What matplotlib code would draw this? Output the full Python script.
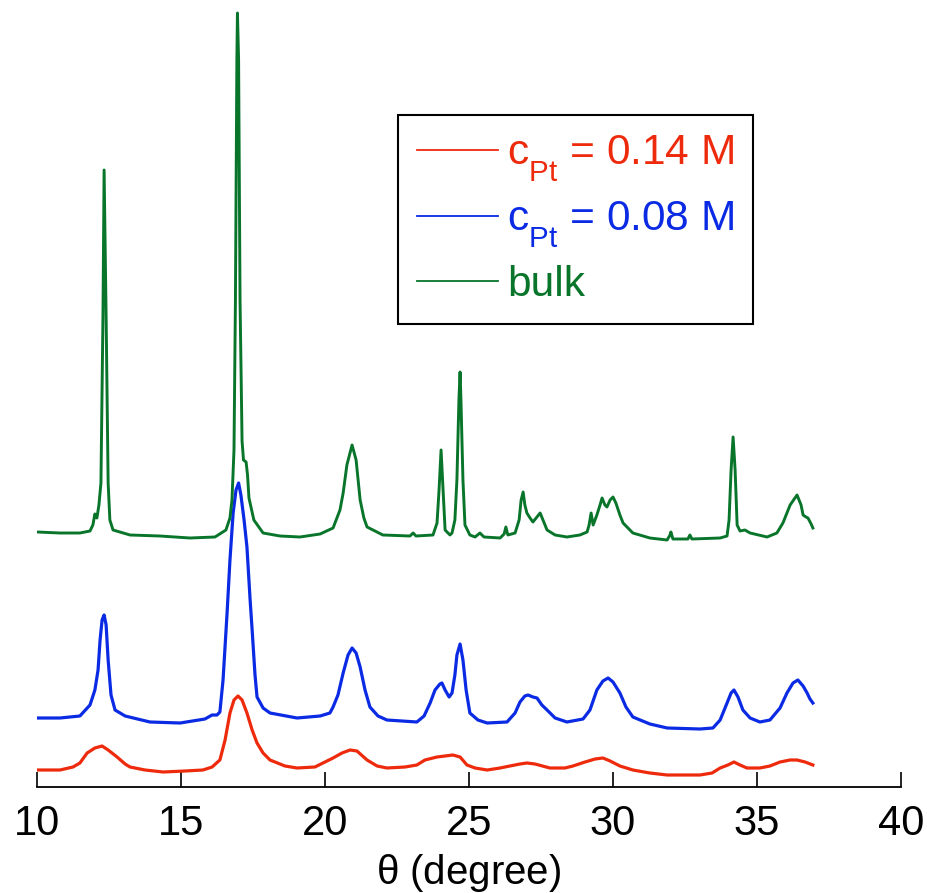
import matplotlib.pyplot as plt
import matplotlib._mathtext as mathtext_internals

plt.rcParams['font.family'] = ['Liberation Sans', 'DejaVu Sans']
plt.rcParams['mathtext.fontset'] = 'custom'
plt.rcParams['mathtext.rm'] = 'Liberation Sans'
plt.rcParams['mathtext.it'] = 'Liberation Sans'
# subscripts in the original sit lower than mathtext's default
mathtext_internals.FontConstantsBase.sub1 = 0.75
mathtext_internals.FontConstantsBase.sub2 = 0.9

# 2-theta style angle (degree) and stacked intensity (a.u.)
bulk_x = [10.00, 10.80, 11.49, 11.84, 11.94, 12.01, 12.08, 12.15, 12.22, 12.29, 12.33, 12.40,
          12.47, 12.53, 12.64, 13.23, 14.27, 15.31, 16.18, 16.56, 16.70, 16.77, 16.84, 16.89,
          16.94, 16.96, 17.00, 17.05, 17.12, 17.17, 17.26, 17.31, 17.36, 17.53, 17.85, 18.44,
          19.13, 19.83, 20.28, 20.52, 20.63, 20.76, 20.94, 21.08, 21.22, 21.35, 21.46, 22.01,
          22.95, 23.06, 23.16, 23.75, 23.89, 23.96, 24.03, 24.10, 24.17, 24.34, 24.41, 24.51,
          24.58, 24.65, 24.69, 24.72, 24.79, 24.86, 25.03, 25.21, 25.38, 25.52, 26.08, 26.22,
          26.28, 26.35, 26.60, 26.74, 26.81, 26.88, 26.94, 27.01, 27.12, 27.22, 27.36, 27.47,
          27.57, 27.71, 27.99, 28.40, 28.85, 29.10, 29.17, 29.24, 29.31, 29.44, 29.55, 29.62,
          29.72, 29.79, 29.90, 30.00, 30.10, 30.24, 30.35, 30.69, 31.28, 31.88, 31.98, 32.01,
          32.08, 32.60, 32.67, 32.74, 33.72, 33.96, 34.03, 34.10, 34.17, 34.24, 34.31, 34.41,
          34.58, 34.76, 35.35, 35.69, 35.90, 36.15, 36.39, 36.53, 36.60, 36.70, 36.77, 36.88,
          36.94]
bulk_y = [255, 254, 254, 256, 262, 273, 269, 282, 304, 470, 617, 470,
          304, 267, 257, 252, 251, 249, 250, 257, 269, 287, 337, 487,
          727, 774, 727, 487, 346, 327, 325, 312, 289, 267, 254, 251,
          250, 253, 259, 277, 294, 322, 342, 327, 287, 269, 260, 252,
          251, 254, 251, 252, 264, 297, 337, 297, 257, 252, 254, 267,
          307, 387, 415, 387, 307, 262, 252, 250, 254, 250, 249, 253,
          260, 252, 254, 267, 287, 295, 282, 274, 269, 265, 270, 274,
          267, 257, 252, 250, 252, 255, 262, 274, 262, 272, 282, 289,
          282, 280, 287, 290, 284, 272, 264, 254, 249, 247, 252, 255,
          248, 248, 252, 248, 249, 251, 267, 317, 350, 317, 262, 256,
          257, 254, 250, 254, 264, 282, 292, 282, 272, 270, 269, 263,
          259]

pt008_x = [10.00, 10.80, 11.49, 11.84, 12.01, 12.12, 12.19, 12.26, 12.33, 12.40, 12.47, 12.57,
           12.71, 13.06, 13.92, 14.97, 15.83, 16.08, 16.25, 16.35, 16.46, 16.60, 16.70, 16.81,
           16.91, 17.00, 17.08, 17.19, 17.29, 17.40, 17.47, 17.57, 17.64, 17.85, 18.09, 19.03,
           19.83, 20.17, 20.28, 20.45, 20.63, 20.80, 20.94, 21.08, 21.22, 21.39, 21.56, 21.84,
           22.15, 23.19, 23.44, 23.65, 23.82, 23.99, 24.06, 24.17, 24.31, 24.41, 24.51, 24.58,
           24.69, 24.79, 24.90, 25.03, 25.31, 25.63, 26.32, 26.60, 26.77, 26.94, 27.05, 27.22,
           27.36, 27.53, 27.71, 27.99, 28.40, 28.96, 29.20, 29.44, 29.65, 29.83, 30.00, 30.24,
           30.45, 30.69, 31.28, 31.88, 33.02, 33.47, 33.72, 33.96, 34.10, 34.20, 34.34, 34.51,
           34.76, 35.10, 35.45, 35.80, 36.04, 36.25, 36.42, 36.60, 36.74, 36.84, 36.94]
pt008_y = [69, 69, 71, 82, 97, 117, 147, 167, 172, 162, 127, 92,
           77, 71, 65, 64, 68, 72, 72, 75, 107, 174, 227, 274,
           297, 304, 292, 267, 240, 187, 157, 112, 90, 79, 74, 69,
           71, 74, 80, 92, 114, 132, 139, 134, 120, 97, 80, 71,
           67, 65, 71, 84, 97, 103, 104, 97, 90, 94, 112, 132,
           143, 127, 97, 74, 67, 64, 65, 74, 85, 91, 92, 90,
           89, 82, 77, 69, 65, 68, 77, 97, 106, 109, 105, 94,
           80, 70, 63, 59, 58, 59, 67, 84, 94, 97, 90, 77,
           69, 65, 67, 79, 94, 104, 107, 101, 94, 88, 84]

pt014_x = [10.00, 10.80, 11.25, 11.49, 11.74, 12.01, 12.26, 12.47, 12.78, 13.06, 13.23, 13.75,
           14.38, 15.14, 15.76, 16.08, 16.35, 16.53, 16.70, 16.84, 16.98, 17.12, 17.29, 17.47,
           17.64, 17.85, 18.09, 18.61, 19.03, 19.65, 20.28, 20.59, 20.87, 21.11, 21.46, 21.81,
           22.15, 22.78, 23.19, 23.47, 23.89, 24.17, 24.44, 24.69, 24.93, 25.21, 25.63, 26.08,
           26.42, 26.77, 27.01, 27.29, 27.81, 28.33, 28.61, 29.03, 29.38, 29.65, 29.90, 30.24,
           30.69, 31.28, 31.88, 33.02, 33.44, 33.72, 33.99, 34.20, 34.41, 34.65, 35.10, 35.45,
           35.80, 36.15, 36.39, 36.67, 36.94]
pt014_y = [17, 17, 20, 24, 34, 39, 41, 37, 30, 23, 20, 17,
           15, 16, 17, 20, 27, 47, 74, 87, 91, 87, 74, 57,
           44, 34, 27, 21, 19, 20, 29, 34, 37, 36, 27, 21,
           19, 20, 22, 27, 30, 31, 32, 30, 22, 19, 17, 19,
           21, 23, 24, 23, 19, 19, 21, 25, 28, 29, 26, 21,
           17, 14, 12, 12, 14, 19, 22, 25, 22, 19, 19, 21,
           25, 27, 27, 25, 22]

labels = [r'$\mathregular{c_{Pt}}$ = 0.14 M', r'$\mathregular{c_{Pt}}$ = 0.08 M', 'bulk']
colors = ['#ee2a0c', '#0b2ae4', '#08752a']

fig = plt.figure(figsize=(9.27, 8.93), dpi=100)
ax = fig.add_axes([37 / 927, 106 / 893, 864 / 927, 787 / 893])

ax.plot(pt014_x, pt014_y, color=colors[0], lw=2.3, label=labels[0])
ax.plot(pt008_x, pt008_y, color=colors[1], lw=2.3, label=labels[1])
ax.plot(bulk_x, bulk_y, color=colors[2], lw=2.1, label=labels[2])

ax.set_xlim(10, 40)
ax.set_ylim(0, 787)
ax.set_xticks([10, 15, 20, 25, 30, 35, 40])
ax.set_yticks([])
for s in ['left', 'right', 'top']:
    ax.spines[s].set_visible(False)
ax.spines['bottom'].set_linewidth(1.3)
ax.tick_params(axis='x', direction='in', length=11, width=1.2, labelsize=30, pad=12)
ax.set_xlabel(r'$\mathregular{\theta}$ (degree)', fontsize=29, labelpad=6)

leg = ax.legend(loc='upper left', bbox_to_anchor=(398 / 927, 1 - 115 / 893),
                bbox_transform=fig.transFigure, fontsize=30.5, frameon=True,
                fancybox=False, edgecolor='black', framealpha=1,
                handlelength=1.9, handletextpad=0.22, labelspacing=0.36,
                borderpad=0.45, borderaxespad=0, labelcolor='linecolor')
leg.get_frame().set_linewidth(1.5)
for line in leg.get_lines():
    line.set_linewidth(1.3)

fig.savefig('out.png', dpi=100)
